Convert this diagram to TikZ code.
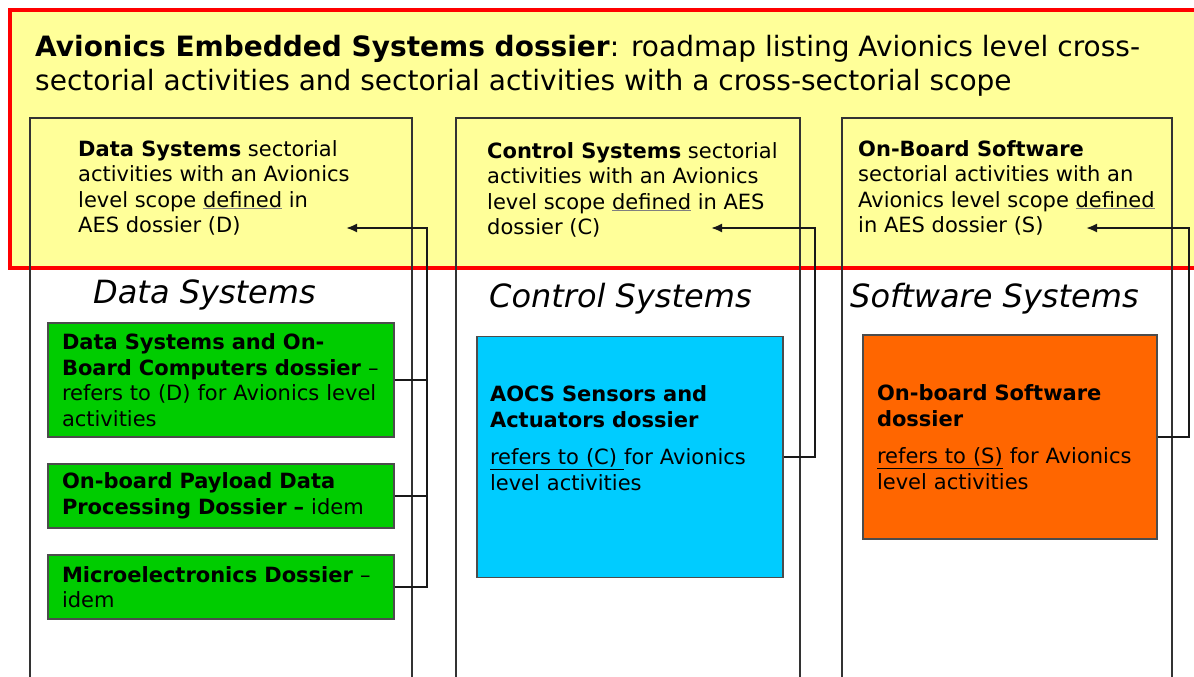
\documentclass[tikz,border=0pt]{standalone}
\usepackage{fontspec}
\setmainfont{DejaVu Sans}
\usepackage{tikz}
\usetikzlibrary{arrows.meta}

\definecolor{aesyellow}{RGB}{255,255,153}
\definecolor{dsgreen}{RGB}{0,204,0}
\definecolor{csblue}{RGB}{0,204,255}
\definecolor{swaorange}{RGB}{255,102,0}

\newcommand{\defd}{\textcolor{gray}{\underline{\textcolor{black}{defined}}}}

\begin{document}
\begin{tikzpicture}[x=1pt, y=-1pt, >={Latex[length=11pt,width=9pt]},
    column/.style = {draw=black!80, line width=1.6pt, inner sep=0pt, minimum height=590pt},
    dossier/.style = {draw=black!70, line width=1.2pt, inner xsep=14pt, align=left,
                      font=\fontsize{21}{25.5}\selectfont},
    scopetext/.style = {anchor=base west, inner sep=0pt, align=left,
                        font=\fontsize{21}{25.5}\selectfont},
    sector/.style = {anchor=base west, inner sep=0pt, font=\fontsize{32}{38}\selectfont\itshape},
    link/.style = {->, line width=2pt, black!90}]
    \path[use as bounding box, fill=white] (0,0) rectangle (1194,677);

    % Nodes (base anchor = last line of each text block)

    \node[fill=aesyellow, draw=red, line width=4pt, minimum width=1220pt, minimum height=258pt,
          inner sep=0pt] (aes) at (620,139) {};
    \node[anchor=base west, inner sep=0pt, align=left, font=\fontsize{28}{33}\selectfont] (title) at (35,90)
        {\textbf{Avionics Embedded Systems dossier}: roadmap listing Avionics level cross-\\
         sectorial activities and sectorial activities with a cross-sectorial scope};

    \node[column, minimum width=382pt] (colD) at (221,413) {};
    \node[column, minimum width=344pt] (colC) at (628,413) {};
    \node[column, minimum width=330pt] (colS) at (1007,413) {};

    \node[scopetext] (scopeD) at (78,232.5)
        {\textbf{Data Systems} sectorial\\ activities with an Avionics\\ level scope \defd{} in\\ AES dossier (D)};
    \node[scopetext] (scopeC) at (487,234.5)
        {\textbf{Control Systems} sectorial\\ activities with an Avionics\\ level scope \defd{} in AES\\ dossier (C)};
    \node[scopetext] (scopeS) at (858,232.5)
        {\textbf{On-Board Software}\\ sectorial activities with an\\ Avionics level scope \defd\\ in AES dossier (S)};

    \node[sector] (secD) at (93,303) {Data Systems};
    \node[sector] (secC) at (489,307) {Control Systems};
    \node[sector] (secS) at (850,307) {Software Systems};

    \node[dossier, fill=dsgreen, text width=318pt, minimum height=114pt] (dsobc) at (221,380)
        {\textbf{Data Systems and On-}\\ \textbf{Board Computers dossier} --\\ refers to (D) for Avionics level\\ activities};
    \node[dossier, fill=dsgreen, text width=318pt, minimum height=64pt] (opdp) at (221,496)
        {\textbf{On-board Payload Data}\\ \textbf{Processing Dossier --} idem};
    \node[dossier, fill=dsgreen, text width=318pt, minimum height=64pt] (micro) at (221,587)
        {\textbf{Microelectronics Dossier} --\\ idem};

    \node[dossier, fill=csblue, text width=280pt, inner xsep=13pt, minimum height=241pt, text depth=126pt] (aocs) at (630,457)
        {\textbf{AOCS Sensors and}\\ \textbf{Actuators dossier}\\[12pt] \underline{refers to (C)\ }for Avionics\\ level activities};
    \node[dossier, fill=swaorange, text width=266pt, minimum height=204pt] (obsw) at (1010,437)
        {\textbf{On-board Software}\\ \textbf{dossier}\\[12pt] \underline{refers to (S)} for Avionics\\ level activities};

    \coordinate (busD) at (427,228);
    \coordinate (endD) at (346,228);
    \coordinate (busC) at (815,228);
    \coordinate (endC) at (711,228);
    \coordinate (busS) at (1189,228);
    \coordinate (endS) at (1086,228);

    % Edges

    \draw[link] (micro.east) -| (busD) -- (endD);
    \draw[link, -] (dsobc.east) -- (dsobc.east -| busD);
    \draw[link, -] (opdp.east) -- (opdp.east -| busD);

    \draw[link] (aocs.east) -| (busC) -- (endC);

    \draw[link] (obsw.east) -| (busS) -- (endS);

\end{tikzpicture}
\end{document}
